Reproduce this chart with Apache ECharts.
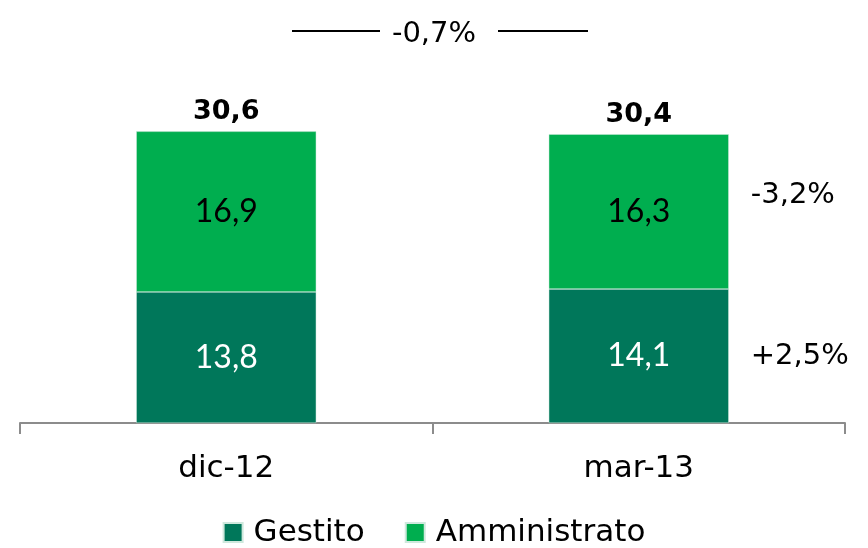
<!DOCTYPE html>
<html>
<head>
<meta charset="utf-8">
<script src="https://cdn.jsdelivr.net/npm/echarts@6/dist/echarts.min.js"></script>
<style>
  html, body { margin: 0; padding: 0; background: #fff; }
  #chart { width: 868px; height: 548px; }
</style>
</head>
<body>
<div id="chart"></div>
<script>
const categories = ['dic-12', 'mar-13']
const gestito = [13.8, 14.1]
const amministrato = [16.9, 16.3]
const totals = [30.6, 30.4]
const pctGestito = ['', '+2,5%']
const pctAmministrato = ['', '-3,2%']
const pctTotal = '-0,7%'

// font numeri / font testo
const NUM = 'Lato'
const TXT = 'DejaVu Sans'
const fmt = v => String(v).replace('.', ',')

const option = {
  textStyle: { fontFamily: TXT },
  animation: false,
  grid: { left: 20, right: 23, top: 43, bottom: 125 },
  title: {
    text: pctTotal,
    left: 'center',
    top: 15,
    textStyle: { fontFamily: TXT, fontSize: 29, fontWeight: 'normal', color: '#000' }
  },
  graphic: [
    { type: 'line', shape: { x1: 292, y1: 31, x2: 380, y2: 31 }, style: { stroke: '#000', lineWidth: 2 } },
    { type: 'line', shape: { x1: 498, y1: 31, x2: 588, y2: 31 }, style: { stroke: '#000', lineWidth: 2 } }
  ],
  legend: {
    bottom: -5,
    left: 'center',
    itemWidth: 19,
    itemHeight: 19,
    itemGap: 40,
    icon: 'rect',
    textStyle: { fontFamily: TXT, fontSize: 31, color: '#000', padding: [0, 0, 0, 6] },
    data: ['Gestito', 'Amministrato']
  },
  xAxis: {
    type: 'category',
    data: categories,
    axisLine: { lineStyle: { color: '#8c8c8c', width: 2 } },
    axisTick: { show: true, length: 11, lineStyle: { color: '#8c8c8c', width: 2 } },
    axisLabel: { fontFamily: TXT, fontSize: 31, color: '#000', margin: 30 }
  },
  yAxis: {
    type: 'value',
    min: 0,
    max: 40,
    show: false,
    splitLine: { show: false }
  },
  series: [
    {
      name: 'Gestito',
      type: 'bar',
      stack: 'a',
      barWidth: 180,
      data: gestito,
      itemStyle: { color: '#00775a', borderColor: '#cfe8dd', borderWidth: 0.5 },
      label: { show: true, position: 'inside', fontFamily: NUM, fontSize: 32, color: '#fff', formatter: p => fmt(p.value) }
    },
    {
      name: 'Amministrato',
      type: 'bar',
      stack: 'a',
      data: amministrato,
      itemStyle: { color: '#00ae4f', borderColor: '#cfe8dd', borderWidth: 0.5 },
      label: { show: true, position: 'inside', fontFamily: NUM, fontSize: 32, color: '#000', formatter: p => fmt(p.value) }
    },
    {
      // solo etichetta del totale
      name: 'totale',
      type: 'bar',
      stack: 'a',
      data: totals.map(() => 0),
      itemStyle: { color: 'transparent' },
      label: {
        show: true, position: 'top', distance: 6,
        fontFamily: TXT, fontSize: 27, fontWeight: 'bold', color: '#000',
        formatter: p => fmt(totals[p.dataIndex])
      }
    },
    {
      name: 'pctG',
      type: 'bar',
      stack: 'b',
      barWidth: 180,
      barGap: '-100%',
      data: gestito,
      itemStyle: { color: 'transparent' },
      label: { show: true, position: 'right', distance: 22, fontFamily: TXT, fontSize: 29, color: '#000', formatter: p => pctGestito[p.dataIndex] }
    },
    {
      name: 'pctA',
      type: 'bar',
      stack: 'b',
      data: amministrato,
      itemStyle: { color: 'transparent' },
      label: { show: true, position: 'right', distance: 22, offset: [0, -16], fontFamily: TXT, fontSize: 29, color: '#000', formatter: p => pctAmministrato[p.dataIndex] }
    }
  ]
}

const myChart = echarts.init(document.getElementById('chart'))
myChart.setOption(option)
</script>
</body>
</html>
